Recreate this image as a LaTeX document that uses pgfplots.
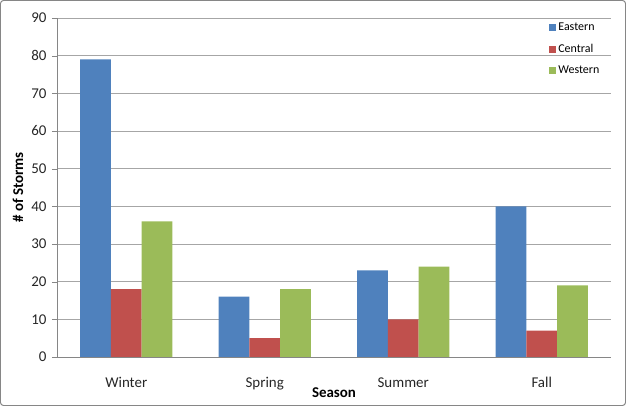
\documentclass[border=0pt]{standalone}
\usepackage{pgfplots}
\pgfplotsset{compat=1.18}
\usepackage{fontspec}
\setmainfont{Carlito}
\definecolor{cEast}{HTML}{4F81BD}
\definecolor{cCent}{HTML}{C0504D}
\definecolor{cWest}{HTML}{9BBB59}
\definecolor{cGrid}{HTML}{A6A6A6}
\definecolor{cAxis}{HTML}{868686}
\begin{document}
\begin{tikzpicture}
\begin{axis}[
  scale only axis, width=554bp, height=339bp,
  at={(0,0)}, anchor=south west,
  xmin=-0.5, xmax=3.5, ymin=0, ymax=90,
  ybar=0pt, bar width=0.2222,
  axis x line*=bottom, axis y line*=left,
  axis line style={cAxis, -},
  xtick={0,1,2,3}, xticklabels={Winter,Spring,Summer,Fall},
  x tick style={draw=none},
  extra x ticks={-0.5,0.5,1.5,2.5,3.5}, extra x tick labels={},
  extra x tick style={major tick length=5bp, tick align=outside, tick style={draw=cAxis}},
  ytick={0,10,...,90},
  y tick style={cAxis},
  tick align=outside, major tick length=5bp,
  ymajorgrids, grid style={cGrid, line width=0.6pt},
  tick label style={font=\fontsize{15}{17}\selectfont, text=black!85},
  /pgf/number format/assume math mode=true,
  yticklabel style={xshift=-2bp},
  xticklabel style={yshift=-12bp},
  xlabel={\textbf{Season}},
  ylabel={\textbf{\# of Storms}},
  label style={font=\fontsize{15}{17}\selectfont},
  xlabel style={at={(axis description cs:0.5,-0.106)}, anchor=center},
  ylabel style={at={(axis description cs:-0.0704,0.5)}, anchor=center},
  legend style={at={(rel axis cs:0.883,0.997)}, anchor=north west, draw=none, fill=none,
    font=\fontsize{12}{14}\selectfont, row sep=8bp},
  legend cell align=left,
  legend image code/.code={\fill[#1] (0bp,-3.5bp) rectangle (7bp,3.5bp);},
]
\addplot[fill=cEast, draw=none] coordinates {(0,79) (1,16) (2,23) (3,40)};
\addplot[fill=cCent, draw=none] coordinates {(0,18) (1,5) (2,10) (3,7)};
\addplot[fill=cWest, draw=none] coordinates {(0,36) (1,18) (2,24) (3,19)};
\legend{Eastern,Central,Western}
\end{axis}
\draw[cAxis, line width=1bp, rounded corners=3bp] (-56.5bp,-48.5bp) rectangle (568.5bp,356.5bp);
\end{tikzpicture}
\end{document}
